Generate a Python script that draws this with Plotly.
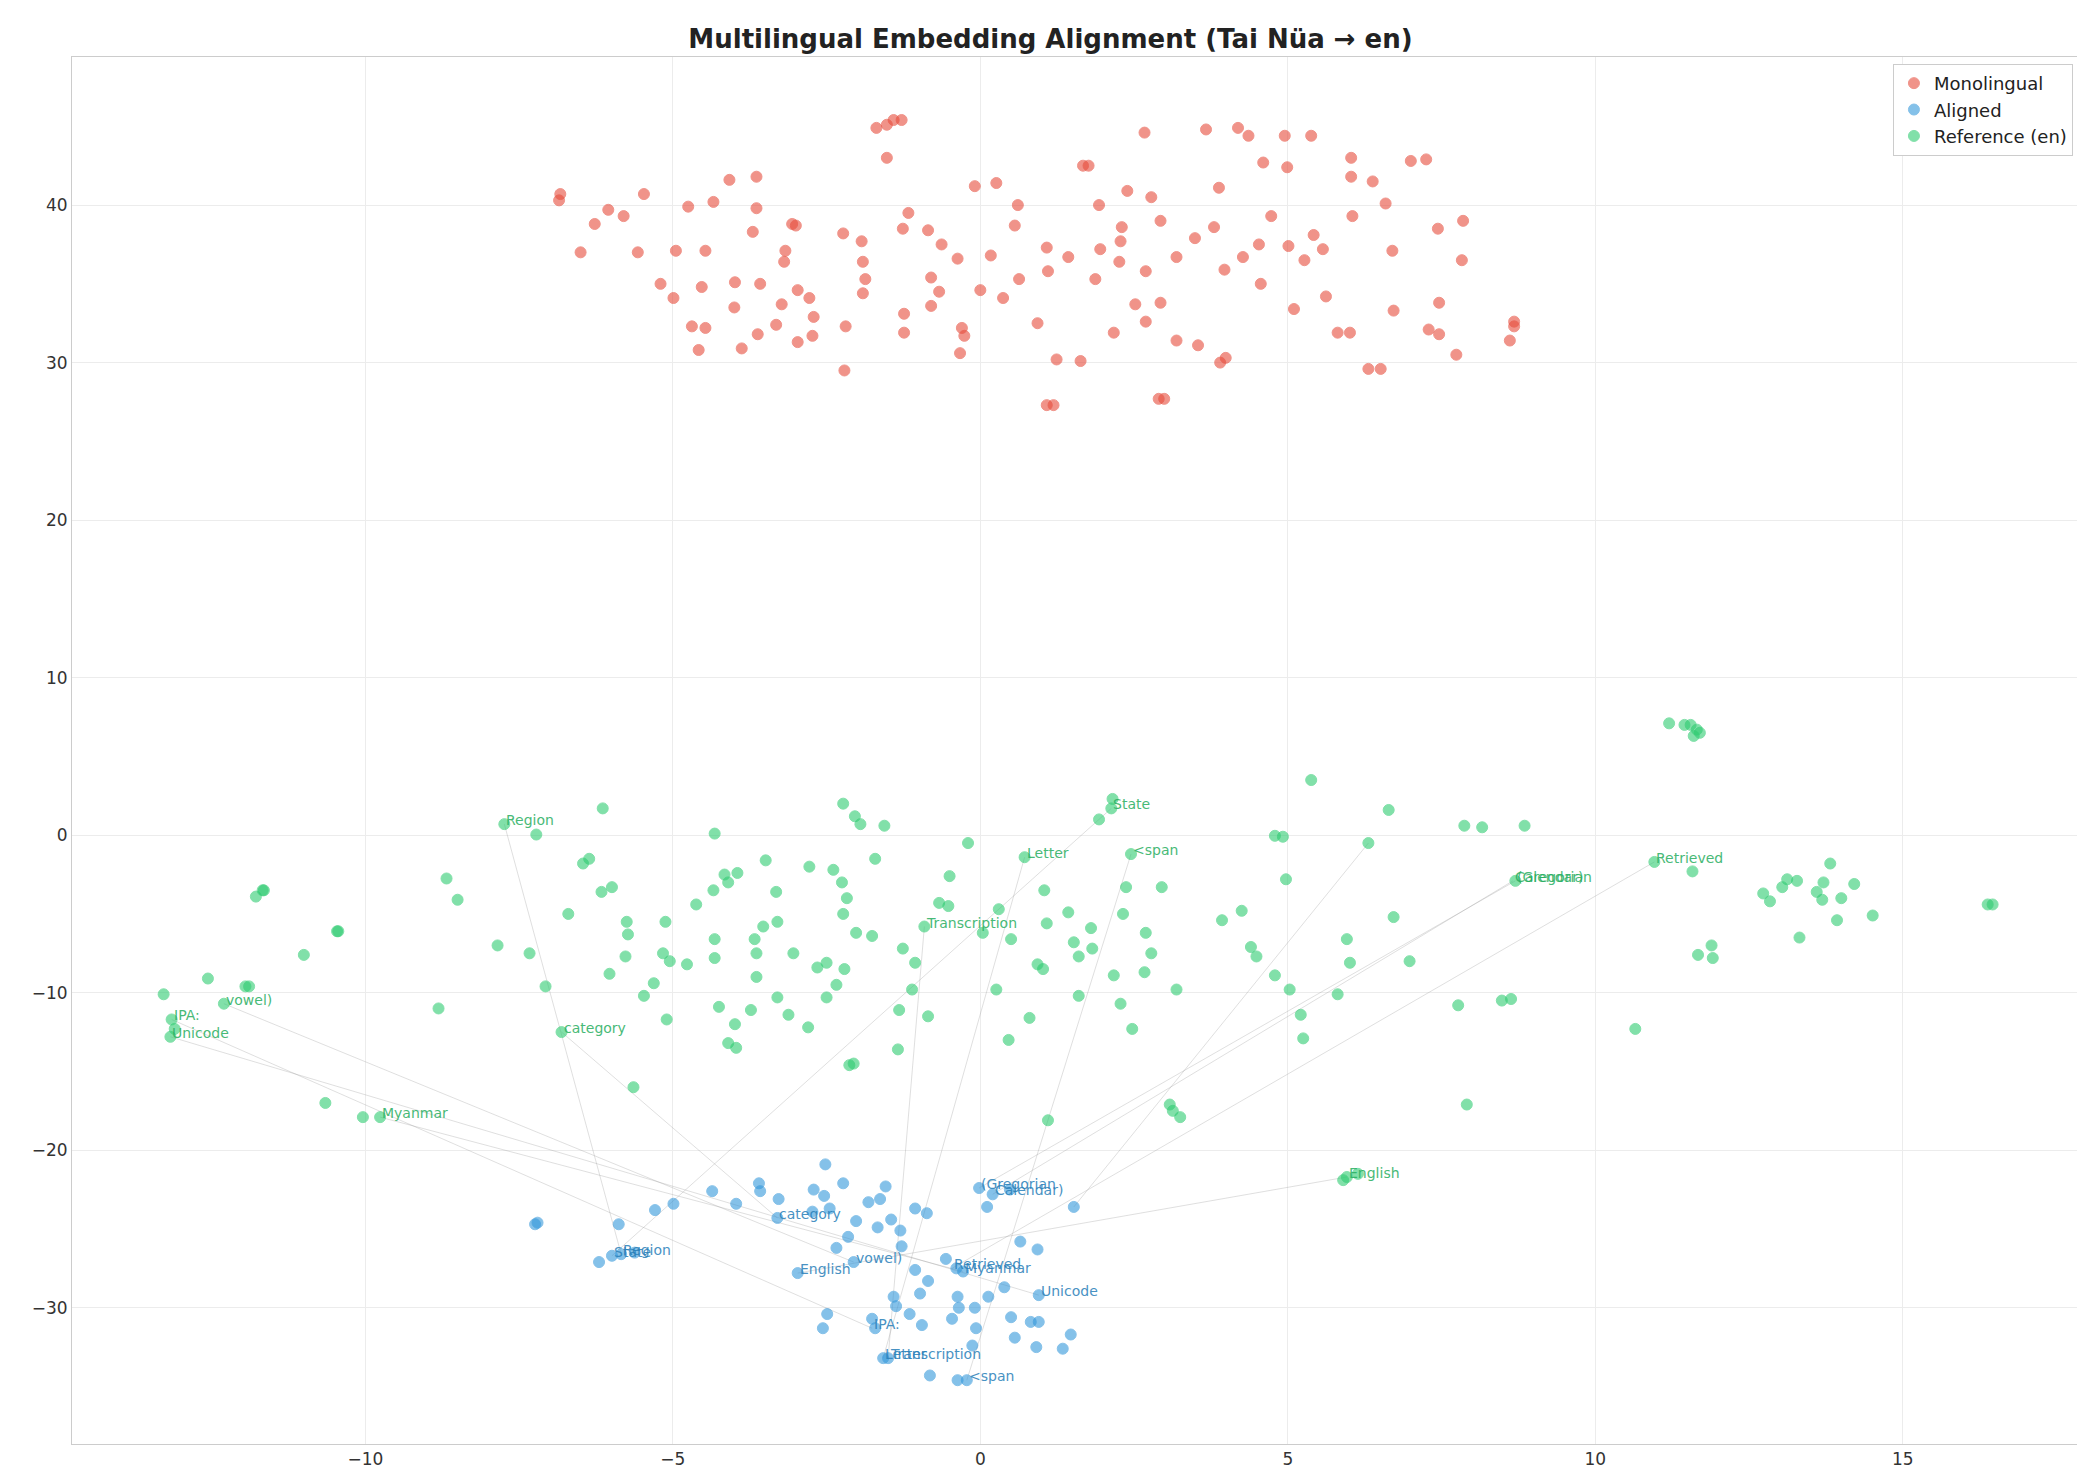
import plotly.graph_objects as go

mono_x = [-6.85,-6.83,-6.5,-6.27,-6.05,-5.8,-5.57,-5.47,-5.2,-4.99,-4.95,-4.75,-4.69,-4.58,-4.53,-4.47,-4.47,-4.34,-4.08,-3.99,-4.0,-3.88,-3.7,-3.64,-3.64,-3.62,-3.58,-3.32,-3.23,-3.17,-3.19,-3.06,-3.0,-2.97,-2.97,-2.78,-2.71,-2.73,-2.23,-2.19,-2.21,-1.93,-1.91,-1.87,-1.91,-1.69,-1.52,-1.52,-1.41,-1.28,-1.24,-1.24,-1.17,-1.26,-0.85,-0.8,-0.8,-0.67,-0.63,-0.37,-0.3,-0.26,-0.33,-0.09,0.0,0.17,0.26,0.37,0.56,0.61,0.63,0.93,1.08,1.1,1.08,1.19,1.24,1.43,1.63,1.67,1.76,1.87,1.93,1.95,2.17,2.26,2.28,2.3,2.39,2.52,2.67,2.69,2.69,2.78,2.9,2.99,2.93,2.93,3.19,3.19,3.49,3.54,3.67,3.8,3.88,3.9,3.99,3.97,4.19,4.27,4.36,4.53,4.56,4.6,4.73,4.95,4.99,5.01,5.1,5.27,5.38,5.42,5.57,5.62,5.81,6.01,6.03,6.03,6.05,6.31,6.38,6.51,6.59,6.7,6.72,7.0,7.25,7.29,7.44,7.46,7.46,7.74,7.83,7.85,8.61,8.68,8.68]
mono_y = [40.3,40.7,37.0,38.8,39.7,39.3,37.0,40.7,35.0,34.1,37.1,39.9,32.3,30.8,34.8,37.1,32.2,40.2,41.6,35.1,33.5,30.9,38.3,41.8,39.8,31.8,35.0,32.4,33.7,37.1,36.4,38.8,38.7,34.6,31.3,34.1,32.9,31.7,38.2,32.3,29.5,37.7,36.4,35.3,34.4,44.9,45.1,43.0,45.4,45.4,33.1,31.9,39.5,38.5,38.4,35.4,33.6,34.5,37.5,36.6,32.2,31.7,30.6,41.2,34.6,36.8,41.4,34.1,38.7,40.0,35.3,32.5,37.3,35.8,27.3,27.3,30.2,36.7,30.1,42.5,42.5,35.3,40.0,37.2,31.9,36.4,37.7,38.6,40.9,33.7,44.6,35.8,32.6,40.5,27.7,27.7,33.8,39.0,36.7,31.4,37.9,31.1,44.8,38.6,41.1,30.0,30.3,35.9,44.9,36.7,44.4,37.5,35.0,42.7,39.3,44.4,42.4,37.4,33.4,36.5,44.4,38.1,37.2,34.2,31.9,31.9,43.0,41.8,39.3,29.6,41.5,29.6,40.1,37.1,33.3,42.8,42.9,32.1,38.5,33.8,31.8,30.5,36.5,39.0,31.4,32.6,32.3]

al_x = [-5.88,-6.2,-5.99,-5.84,-5.62,-7.24,-7.2,-5.29,-4.99,-4.36,-3.97,-3.6,-3.58,-3.28,-3.3,-2.97,-2.71,-2.73,-2.52,-2.54,-2.45,-2.34,-2.23,-2.49,-2.56,-2.15,-2.02,-2.06,-1.82,-1.76,-1.71,-1.63,-1.67,-1.54,-1.58,-1.5,-1.45,-1.41,-1.37,-1.3,-1.28,-1.15,-1.06,-1.06,-0.98,-0.95,-0.87,-0.85,-0.82,-0.56,-0.46,-0.39,-0.37,-0.35,-0.37,-0.28,-0.22,-0.13,-0.09,-0.07,-0.02,0.11,0.13,0.2,0.39,0.48,0.5,0.56,0.65,0.82,0.91,0.93,0.95,0.95,1.34,1.47,1.52]
al_y = [-24.7,-27.1,-26.7,-26.6,-26.5,-24.7,-24.6,-23.8,-23.4,-22.6,-23.4,-22.1,-22.6,-23.1,-24.3,-27.8,-22.5,-23.9,-20.9,-22.9,-23.7,-26.2,-22.1,-30.4,-31.3,-25.5,-24.5,-27.1,-23.3,-30.7,-31.3,-23.1,-24.9,-22.3,-33.2,-33.2,-24.4,-29.3,-29.9,-25.1,-26.1,-30.4,-27.6,-23.7,-29.1,-31.1,-24.0,-28.3,-34.3,-26.9,-30.7,-27.5,-29.3,-30.0,-34.6,-27.7,-34.6,-32.4,-30.0,-31.3,-22.4,-23.6,-29.3,-22.8,-28.7,-22.5,-30.6,-31.9,-25.8,-30.9,-32.5,-26.3,-29.2,-30.9,-32.6,-31.7,-23.6]

ref_x = [-13.28,-13.15,-13.1,-13.17,-12.56,-12.3,-11.95,-11.89,-11.78,-11.67,-11.65,-11.0,-10.65,-10.46,-10.44,-10.04,-9.76,-8.81,-8.68,-8.5,-7.85,-7.74,-7.33,-7.22,-7.07,-6.81,-6.7,-6.46,-6.36,-6.16,-6.14,-6.03,-5.99,-5.75,-5.73,-5.77,-5.64,-5.47,-5.31,-5.12,-5.1,-5.16,-5.05,-4.77,-4.62,-4.34,-4.32,-4.32,-4.32,-4.25,-4.16,-4.1,-4.1,-3.99,-3.97,-3.95,-3.73,-3.67,-3.64,-3.64,-3.53,-3.49,-3.32,-3.3,-3.3,-3.12,-3.04,-2.8,-2.78,-2.65,-2.5,-2.5,-2.39,-2.34,-2.25,-2.23,-2.23,-2.21,-2.17,-2.13,-2.06,-2.04,-2.02,-1.95,-1.76,-1.71,-1.56,-1.34,-1.32,-1.26,-1.11,-1.06,-0.91,-0.85,-0.67,-0.52,-0.5,-0.2,0.04,0.26,0.3,0.46,0.5,0.72,0.8,0.93,1.02,1.04,1.08,1.1,1.43,1.52,1.6,1.6,1.8,1.82,1.93,2.13,2.15,2.17,2.28,2.32,2.37,2.45,2.47,2.67,2.69,2.78,2.95,3.08,3.13,3.19,3.25,3.93,4.25,4.4,4.49,4.79,4.79,4.92,4.97,5.03,5.21,5.25,5.38,5.81,5.9,5.96,6.14,5.96,6.01,6.31,6.64,6.72,6.98,7.77,7.87,7.91,8.16,8.48,8.63,8.7,8.85,10.65,10.96,11.2,11.45,11.55,11.65,11.6,11.7,11.58,11.67,11.89,11.91,12.73,12.84,13.04,13.12,13.28,13.32,13.6,13.71,13.69,13.82,13.93,14.0,14.21,14.51,16.38,16.46]
ref_y = [-10.1,-11.7,-12.3,-12.8,-9.1,-10.7,-9.6,-9.6,-3.9,-3.5,-3.5,-7.6,-17.0,-6.1,-6.1,-17.9,-17.9,-11.0,-2.75,-4.1,-7.0,0.7,-7.5,0.04,-9.6,-12.5,-5.0,-1.8,-1.5,-3.6,1.7,-8.8,-3.3,-5.5,-6.3,-7.7,-16.0,-10.2,-9.4,-5.5,-11.7,-7.5,-8.0,-8.2,-4.4,-3.5,0.1,-6.6,-7.8,-10.9,-2.5,-3.0,-13.2,-12.0,-13.5,-2.4,-11.1,-6.6,-7.5,-9.0,-5.8,-1.6,-3.6,-5.5,-10.3,-11.4,-7.5,-12.2,-2.0,-8.4,-8.1,-10.3,-2.2,-9.5,-3.0,2.0,-5.0,-8.5,-4.0,-14.6,-14.5,1.2,-6.2,0.7,-6.4,-1.5,0.6,-13.6,-11.1,-7.2,-9.8,-8.1,-5.8,-11.5,-4.3,-4.5,-2.6,-0.5,-6.2,-9.8,-4.7,-13.0,-6.6,-1.4,-11.6,-8.2,-8.5,-3.5,-5.6,-18.1,-4.9,-6.8,-10.2,-7.7,-5.9,-7.2,1.0,1.7,2.3,-8.9,-10.7,-5.0,-3.3,-1.2,-12.3,-8.7,-6.2,-7.5,-3.3,-17.1,-17.5,-9.8,-17.9,-5.4,-4.8,-7.1,-7.7,-0.04,-8.9,-0.1,-2.8,-9.8,-11.4,-12.9,3.5,-10.1,-21.9,-21.7,-21.5,-6.6,-8.1,-0.5,1.6,-5.2,-8.0,-10.8,0.6,-17.1,0.5,-10.5,-10.4,-2.9,0.6,-12.3,-1.7,7.1,7.0,7.0,6.7,6.3,6.5,-2.3,-7.6,-7.0,-7.8,-3.7,-4.2,-3.3,-2.8,-2.9,-6.5,-3.6,-3.0,-4.1,-1.8,-5.4,-4.0,-3.1,-5.1,-4.4,-4.4]

words = ["Region","State","category","Myanmar","vowel)","IPA:","Unicode","Letter","<span","Transcription","</s>","(Gregorian","Calendar)","Retrieved","English"]
word_ref_x = [-7.74,2.13,-6.81,-9.76,-12.3,-13.15,-13.17,0.72,2.45,-0.91,6.31,8.7,8.66,10.96,5.96]
word_ref_y = [0.7,1.7,-12.5,-17.9,-10.7,-11.7,-12.8,-1.4,-1.2,-5.8,-0.5,-2.9,-2.9,-1.7,-21.7]
word_al_x = [-5.84,-5.99,-3.3,-0.28,-2.06,-1.76,0.95,-1.58,-0.22,-1.5,1.52,-0.02,0.2,-0.46,-2.97]
word_al_y = [-26.6,-26.7,-24.3,-27.7,-27.1,-31.3,-29.2,-33.2,-34.6,-33.2,-23.6,-22.4,-22.8,-27.5,-27.8]

fig = go.Figure()
lx, ly = [], []
for a, b, c, d in zip(word_ref_x, word_ref_y, word_al_x, word_al_y):
    lx += [a, c, None]; ly += [b, d, None]
fig.add_trace(go.Scatter(x=lx, y=ly, mode="lines", line=dict(color="rgba(150,150,150,0.3)", width=1),
                         showlegend=False, hoverinfo="skip"))
def sc(x, y, col, name):
    fig.add_trace(go.Scatter(x=x, y=y, mode="markers", name=name,
                             marker=dict(color=col, size=11, opacity=0.6, line=dict(color=col, width=1))))
sc(mono_x, mono_y, "#e74c3c", "Monolingual")
sc(al_x, al_y, "#3498db", "Aligned")
sc(ref_x, ref_y, "#2ecc71", "Reference (en)")

for w, a, b, c, d in zip(words, word_ref_x, word_ref_y, word_al_x, word_al_y):
    fig.add_annotation(x=a, y=b, text=w, showarrow=False, xanchor="left", yanchor="bottom",
                       xshift=0, yshift=-6, font=dict(size=14, color="#27ae60"), opacity=0.85)
    fig.add_annotation(x=c, y=d, text=w, showarrow=False, xanchor="left", yanchor="bottom",
                       xshift=0, yshift=-6, font=dict(size=14, color="#2980b9"), opacity=0.85)

ax = dict(showgrid=True, gridcolor="#ececec", zeroline=False, showline=True, linecolor="#cccccc",
          mirror=True, ticks="", tickfont=dict(size=17, color="#333"))
fig.update_layout(
    width=2085, height=1483, plot_bgcolor="white", paper_bgcolor="white",
    font=dict(family="DejaVu Sans"),
    title=dict(text="<b>Multilingual Embedding Alignment (Tai Nüa → en)</b>", x=0.5, xanchor="center",
               y=0.985, font=dict(size=26, color="#222")),
    margin=dict(l=64, r=10, t=49, b=47),
    xaxis=dict(range=[-14.77, 17.93], tickvals=[-10, -5, 0, 5, 10, 15], **ax),
    yaxis=dict(range=[-38.65, 49.4], tickvals=[-30, -20, -10, 0, 10, 20, 30, 40], **ax),
    legend=dict(x=0.995, y=0.995, xanchor="right", yanchor="top", bgcolor="white",
                bordercolor="#cccccc", borderwidth=1, font=dict(size=18, color="#222")),
)
fig.write_html("out.html")
